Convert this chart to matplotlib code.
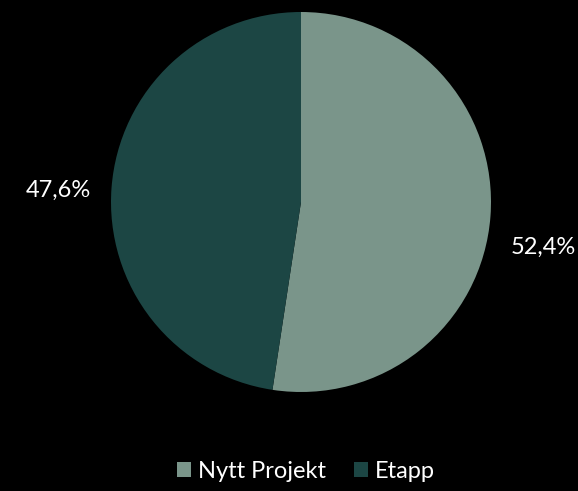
import numpy as np
import matplotlib.pyplot as plt
from matplotlib.patches import Patch

labels = ["Nytt Projekt", "Etapp"]
shares = [52.4, 47.6]
colors = ["#7a958a", "#1c4644"]

plt.rcParams["font.family"] = ["Lato", "DejaVu Sans"]

fig = plt.figure(figsize=(5.78, 4.91), dpi=100, facecolor="black")
# square axes so the pie sits centred in the upper part of the figure
ax = fig.add_axes([111 / 578, 99 / 491, 380 / 578, 380 / 491])
ax.set_facecolor("black")

wedges, _ = ax.pie(shares, colors=colors, startangle=90, counterclock=False,
                   radius=1.0, wedgeprops=dict(linewidth=0))

# percentage labels outside each wedge
start = 90.0
for share in shares:
    span = share / 100 * 360
    mid = np.deg2rad(start - span / 2)
    start -= span
    r = 1.28
    dy = -0.035 - 0.105 * (np.cos(mid) > 0)
    ax.text(r * np.cos(mid), r * np.sin(mid) + dy,
            f"{share:.1f}%".replace(".", ","), color="white", fontsize=17,
            ha="center", va="center")

ax.set_xlim(-1, 1)
ax.set_ylim(-1, 1)
ax.set_aspect("equal")
ax.axis("off")

handles = [Patch(facecolor=c, edgecolor="none") for c in colors]
fig.legend(handles, labels, loc="center", bbox_to_anchor=(306 / 578, 1 - 471 / 491),
           ncol=2, frameon=False, fontsize=17, labelcolor="white",
           handlelength=0.6, handleheight=0.6, handletextpad=0.3, columnspacing=1.15)

fig.savefig("out.png", dpi=100, facecolor="black")
